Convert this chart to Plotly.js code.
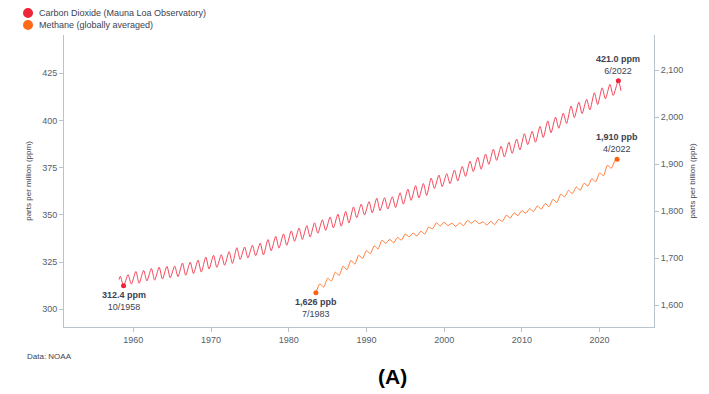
<!DOCTYPE html>
<html>
<head>
<meta charset="utf-8">
<script src="https://cdn.plot.ly/plotly-3.0.1.min.js"></script>
<style>html,body{margin:0;padding:0;background:#fff;}#chart{width:709px;height:394px;}</style>
</head>
<body>
<div id="chart"></div>
<script>
// Carbon dioxide (Mauna Loa), seasonal highs and lows, ppm
const co2Dates = ['1958-03','1958-05','1958-10',
'1959-05','1959-10','1960-05','1960-10','1961-05','1961-10','1962-05','1962-10','1963-05','1963-10',
'1964-05','1964-10','1965-05','1965-10','1966-05','1966-10','1967-05','1967-10','1968-05','1968-10',
'1969-05','1969-10','1970-05','1970-10','1971-05','1971-10','1972-05','1972-10','1973-05','1973-10',
'1974-05','1974-10','1975-05','1975-10','1976-05','1976-10','1977-05','1977-10','1978-05','1978-10',
'1979-05','1979-10','1980-05','1980-10','1981-05','1981-10','1982-05','1982-10','1983-05','1983-10',
'1984-05','1984-10','1985-05','1985-10','1986-05','1986-10','1987-05','1987-10','1988-05','1988-10',
'1989-05','1989-10','1990-05','1990-10','1991-05','1991-10','1992-05','1992-10','1993-05','1993-10',
'1994-05','1994-10','1995-05','1995-10','1996-05','1996-10','1997-05','1997-10','1998-05','1998-10',
'1999-05','1999-10','2000-05','2000-10','2001-05','2001-10','2002-05','2002-10','2003-05','2003-10',
'2004-05','2004-10','2005-05','2005-10','2006-05','2006-10','2007-05','2007-10','2008-05','2008-10',
'2009-05','2009-10','2010-05','2010-10','2011-05','2011-10','2012-05','2012-10','2013-05','2013-10',
'2014-05','2014-10','2015-05','2015-10','2016-05','2016-10','2017-05','2017-10','2018-05','2018-10',
'2019-05','2019-10','2020-05','2020-10','2021-05','2021-10','2022-06','2022-10'];
const co2Values = [315.7,317.5,312.4,
318.3,313.3,320.0,313.8,320.6,315.0,321.6,315.4,322.3,316.0,
322.7,316.7,322.9,317.3,324.5,318.0,325.0,318.9,326.0,319.7,
327.6,321.3,328.6,322.2,328.9,323.3,330.5,324.3,332.6,326.4,
333.0,327.2,333.9,328.4,335.0,328.8,336.9,331.0,338.6,332.4,
339.9,333.9,341.5,336.0,343.0,337.0,344.3,338.3,345.8,340.3,
347.4,341.8,348.9,343.1,350.4,344.0,351.8,345.7,354.2,348.5,
355.7,349.9,357.0,351.1,358.8,352.3,359.1,353.1,359.6,353.9,
361.7,355.7,363.6,357.7,365.5,359.0,366.6,360.3,369.5,364.0,
371.1,365.0,371.8,366.6,373.8,368.0,375.6,370.4,378.5,373.0,
380.5,374.2,382.2,376.8,384.8,378.9,386.4,380.7,388.5,382.6,
390.2,384.4,393.0,387.2,394.2,388.5,396.8,391.0,399.8,393.5,
401.8,395.9,403.9,398.4,407.7,401.6,409.7,403.7,411.2,405.6,
414.7,408.5,417.3,411.5,419.1,413.3,421.0,415.7];

// Methane (globally averaged), ppb
const ch4Dates = ['1983-07','1984-01','1984-07','1985-01','1985-07','1986-01','1986-07','1987-01','1987-07',
'1988-01','1988-07','1989-01','1989-07','1990-01','1990-07','1991-01','1991-07','1992-01','1992-07',
'1993-01','1993-07','1994-01','1994-07','1995-01','1995-07','1996-01','1996-07','1997-01','1997-07',
'1998-01','1998-07','1999-01','1999-07','2000-01','2000-07','2001-01','2001-07','2002-01','2002-07',
'2003-01','2003-07','2004-01','2004-07','2005-01','2005-07','2006-01','2006-07','2007-01','2007-07',
'2008-01','2008-07','2009-01','2009-07','2010-01','2010-07','2011-01','2011-07','2012-01','2012-07',
'2013-01','2013-07','2014-01','2014-07','2015-01','2015-07','2016-01','2016-07','2017-01','2017-07',
'2018-01','2018-07','2019-01','2019-07','2020-01','2020-07','2021-01','2021-07','2022-01','2022-04','2022-07'];
const ch4Values = [1626.0,1645,1638,1657,1651,1670,1663,1683,1675,
1695,1687,1706,1699,1716,1709,1726,1719,1738,1731,
1740,1732,1744,1738,1751,1745,1753,1747,1757,1751,
1766,1762,1775,1768,1776,1769,1774,1767,1775,1769,
1780,1774,1780,1773,1777,1770,1778,1771,1782,1778,
1791,1785,1796,1790,1801,1795,1805,1799,1811,1804,
1816,1809,1825,1818,1836,1830,1844,1837,1851,1844,
1859,1853,1869,1862,1881,1875,1897,1891,1908,1910,1907];

const co2Marked = ['1958-10','2022-06'];
const co2MarkLabels = [['312.4 ppm','10/1958','below'],['421.0 ppm','6/2022','above']];
const ch4Marked = ['1983-07','2022-04'];
const ch4MarkLabels = [['1,626 ppb','7/1983','below'],['1,910 ppb','4/2022','above']];

const seriesNames = ['Carbon Dioxide (Mauna Loa Observatory)', 'Methane (globally averaged)'];
const seriesDots = ['#ee2439', '#ff6a16'];

const CO2C = '#f4475b', CH4C = '#ff7a33';
const FONT = 'Liberation Sans, Arial, Helvetica, sans-serif';
const TXT = '#3b4252';

const co2Mx = co2Marked, co2My = co2Marked.map(d => co2Values[co2Dates.indexOf(d)]);
const ch4Mx = ch4Marked, ch4My = ch4Marked.map(d => ch4Values[ch4Dates.indexOf(d)]);

const traces = [
  {x: co2Dates, y: co2Values, type: 'scatter', mode: 'lines', line: {color: CO2C, width: 1, shape: 'spline', smoothing: 0.7}, yaxis: 'y', hoverinfo: 'skip', showlegend: false},
  {x: ch4Dates, y: ch4Values, type: 'scatter', mode: 'lines', line: {color: CH4C, width: 1, shape: 'spline', smoothing: 0.5}, yaxis: 'y2', hoverinfo: 'skip', showlegend: false},
  {x: co2Mx, y: co2My, type: 'scatter', mode: 'markers', marker: {color: '#ee2439', size: 5}, yaxis: 'y', showlegend: false},
  {x: ch4Mx, y: ch4My, type: 'scatter', mode: 'markers', marker: {color: '#ff5f12', size: 5}, yaxis: 'y2', showlegend: false}
];

const anns = [];
function addMarks(xs, ys, labels, yref) {
  xs.forEach((d, i) => {
    const [a, b, pos] = labels[i];
    anns.push({x: d, y: ys[i], xref: 'x', yref: yref, showarrow: false,
      text: '<b>' + a + '</b><br>' + b, align: 'center',
      xanchor: 'center', yanchor: pos === 'above' ? 'bottom' : 'top',
      yshift: pos === 'above' ? 3 : -2,
      font: {family: FONT, size: 9, color: TXT}});
  });
}
addMarks(co2Mx, co2My, co2MarkLabels, 'y');
addMarks(ch4Mx, ch4My, ch4MarkLabels, 'y2');

// legend (dots as shapes, labels as text)
const legendY = [1.0753, 1.0342];
const shapes = [];
seriesNames.forEach((name, i) => {
  anns.push({xref: 'paper', yref: 'paper', x: -0.0458, y: legendY[i], xanchor: 'left', yanchor: 'middle', showarrow: false,
    text: name, font: {family: FONT, size: 9, color: TXT}});
  shapes.push({type: 'circle', xref: 'paper', yref: 'paper', xsizemode: 'pixel', ysizemode: 'pixel',
    xanchor: -0.061, yanchor: legendY[i], x0: -5, x1: 5, y0: -5, y1: 5,
    fillcolor: seriesDots[i], line: {width: 0}});
});
anns.push({xref: 'paper', yref: 'paper', x: -0.066, y: -0.1027, xanchor: 'left', yanchor: 'middle', showarrow: false,
  text: 'Data: NOAA', font: {family: FONT, size: 8, color: TXT}});
anns.push({xref: 'paper', yref: 'paper', x: 0.5576, y: -0.168, xanchor: 'center', yanchor: 'middle', showarrow: false,
  text: '<b>(A)</b>', font: {family: FONT, size: 21, color: '#000'}});

const axisCommon = {showline: true, linecolor: '#b9c3cc', linewidth: 1, ticks: 'outside', ticklen: 4, tickcolor: '#b9c3cc',
  showgrid: false, zeroline: false, tickfont: {family: FONT, size: 9, color: '#555d6b'}};

const layout = {
  width: 709, height: 394,
  margin: {l: 64, r: 55, t: 35, b: 67},
  paper_bgcolor: '#fff', plot_bgcolor: '#fff',
  showlegend: false,
  font: {family: FONT},
  xaxis: Object.assign({}, axisCommon, {type: 'date', range: ['1951-02-01', '2027-01-01'], dtick: 'M120', tick0: '1960-01-01', tickformat: '%Y'}),
  yaxis: Object.assign({}, axisCommon, {range: [290.6, 445.3], tickvals: [300, 325, 350, 375, 400, 425],
    title: {text: 'parts per million (ppm)', font: {family: FONT, size: 8, color: TXT}, standoff: 9}}),
  yaxis2: Object.assign({}, axisCommon, {overlaying: 'y', side: 'right', range: [1553.2, 2174.5],
    tickvals: [1600, 1700, 1800, 1900, 2000, 2100], tickformat: ',',
    title: {text: 'parts per billion (ppb)', font: {family: FONT, size: 8, color: TXT}, standoff: 7}}),
  annotations: anns,
  shapes: shapes
};

Plotly.newPlot('chart', traces, layout, {displayModeBar: false, staticPlot: true});
</script>
</body>
</html>
